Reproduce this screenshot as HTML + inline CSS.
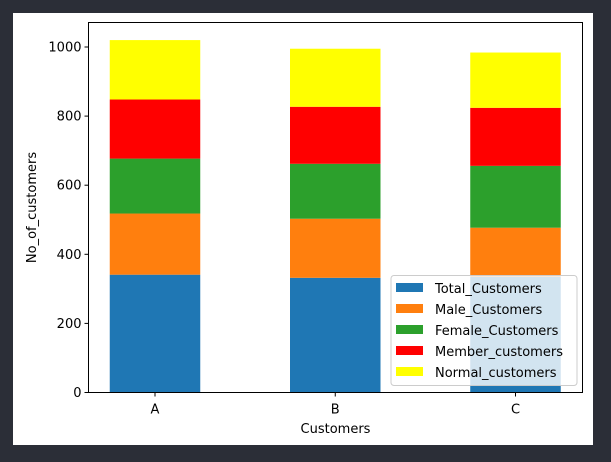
<!DOCTYPE html>
<html><head><meta charset="utf-8"><style>
body{margin:0;background:#2b2e37;width:611px;height:462px;overflow:hidden}
svg{display:block}
text{font-family:"DejaVu Sans","Liberation Sans",sans-serif;font-size:13px;fill:#000}
</style></head><body>
<svg id="c" width="611" height="462">
<rect x="13" y="13" width="580" height="432" fill="#fff"/>
</svg>
<script>
const categories=["A","B","C"];
const seriesNames=["Total_Customers","Male_Customers","Female_Customers","Member_customers","Normal_customers"];
const total=[341,332,335];
const male=[177,171,142];
const female=[159,159,179];
const member=[171,165,168];
const normal=[172,168,160];
const yTicks=[0,200,400,600,800,1000];
const colors=["#1f77b4","#ff7f0e","#2ca02c","#ff0000","#ffff00"];
const series=[total,male,female,member,normal];
const NS="http://www.w3.org/2000/svg";
const svg=document.getElementById('c');
const L=88.5,R=582.5,T=22.5,B=392.5;
const y=v=>392.5-v*0.3455;
const x=i=>155+180.25*i;
const bw=90.5;
function mk(t,a,txt){const e=document.createElementNS(NS,t);for(const k in a)e.setAttribute(k,a[k]);if(txt!=null)e.textContent=txt;svg.appendChild(e);return e;}
categories.forEach((c,i)=>{let base=0;series.forEach((s,j)=>{
const r=mk('rect',{x:x(i)-bw/2,y:y(base+s[i]),width:bw,height:y(base)-y(base+s[i]),fill:colors[j]});


base+=s[i];});
mk('line',{x1:x(i),x2:x(i),y1:B,y2:B+4,stroke:'#000'});
const t=mk('text',{x:x(i),y:B+21,'text-anchor':'middle'},c);


});
yTicks.forEach(v=>{mk('line',{x1:L-4,x2:L,y1:y(v),y2:y(v),stroke:'#000'});
const t=mk('text',{x:L-7,y:y(v)+4.5,'text-anchor':'end'},v);

});
const ax=mk('rect',{x:L,y:T,width:R-L,height:B-T,fill:'none',stroke:'#000','stroke-width':1});


const xt=mk('text',{x:(L+R)/2,y:433,'text-anchor':'middle'},'Customers');


const yt=mk('text',{x:36,y:(T+B)/2,'text-anchor':'middle',transform:'rotate(-90 36 '+(T+B)/2+')'},'No_of_customers');


const lg=mk('rect',{x:391,y:275.5,width:186,height:110,rx:3,fill:'#fff','fill-opacity':0.8,stroke:'#ccc'});


seriesNames.forEach((n,j)=>{const yy=283+j*21;
mk('rect',{x:396,y:yy,width:27,height:9,fill:colors[j]});
const t=mk('text',{x:435,y:yy+10,'font-size':'13.5px'},n);

});
</script>
</body></html>
